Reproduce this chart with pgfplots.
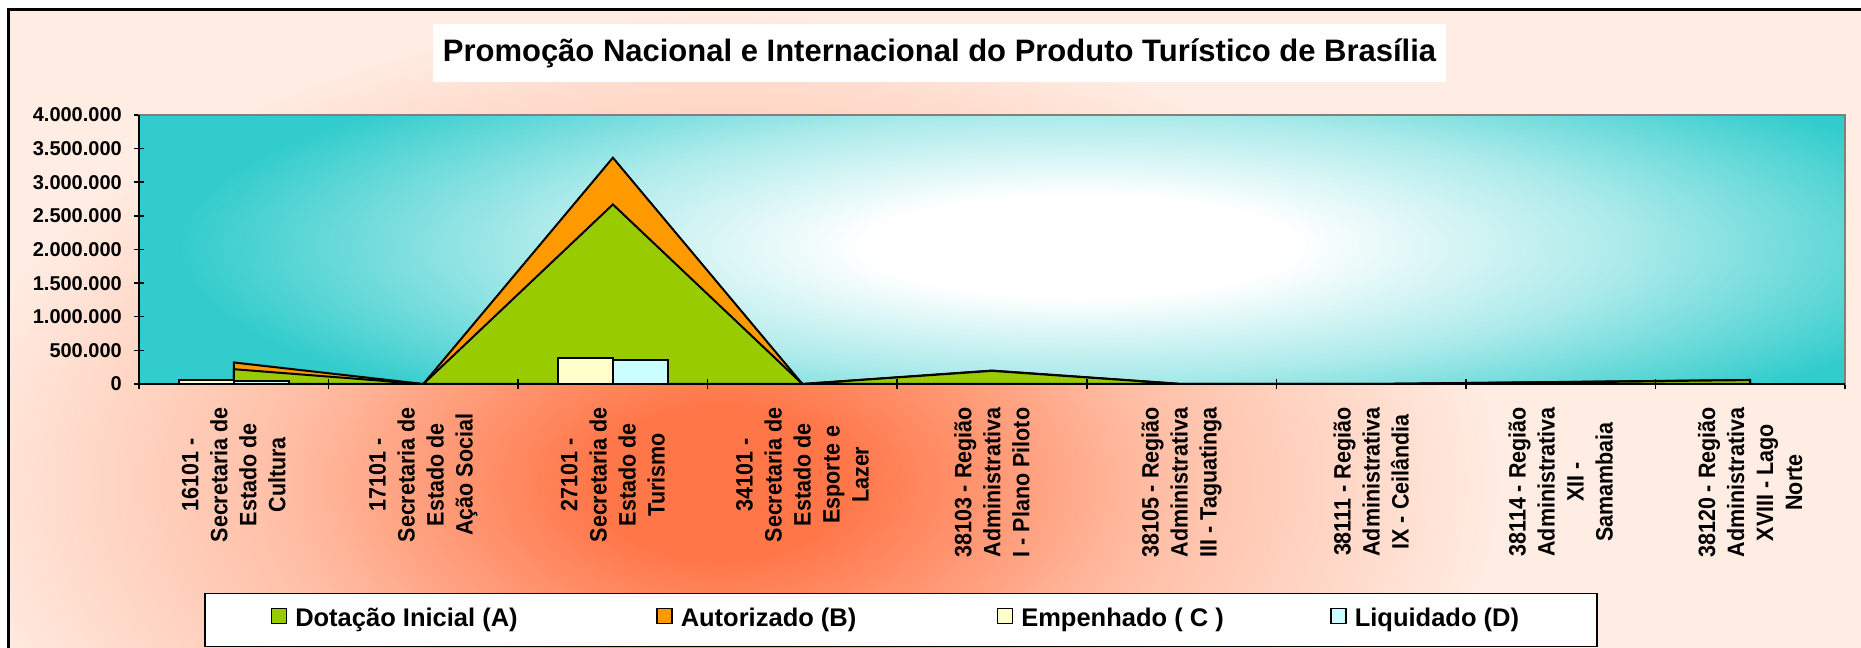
\documentclass[border=0pt]{standalone}
\usepackage{pgfplots}
\pgfplotsset{compat=1.18}
\usepackage{fontspec}
\setmainfont{Liberation Sans}

\definecolor{dotacao}{RGB}{153,204,0}
\definecolor{autoriz}{RGB}{255,153,0}
\definecolor{empenh}{RGB}{255,255,204}
\definecolor{liquid}{RGB}{204,255,255}
\definecolor{tealbg}{RGB}{51,204,204}
\definecolor{peachin}{RGB}{255,118,72}
\definecolor{peachmid}{RGB}{255,190,165}
\definecolor{peachout}{RGB}{255,236,226}
\definecolor{framegray}{RGB}{128,128,128}

% 25bp of a shading is the edge of the shaded path
\pgfdeclareradialshading{tealrad}{\pgfpoint{0bp}{0bp}}{color(0bp)=(white); color(6bp)=(white); color(15bp)=(tealbg!40!white); color(25bp)=(tealbg); color(50bp)=(tealbg)}
\pgfdeclareradialshading{peachrad}{\pgfpoint{0bp}{0bp}}{color(0bp)=(peachin); color(4bp)=(peachin); color(14bp)=(peachmid); color(25bp)=(peachout); color(50bp)=(peachout)}

\begin{document}
\begin{tikzpicture}[x=1bp,y=1bp]
\useasboundingbox (0,0) rectangle (1861,648);
\begin{scope}
\clip (0,0) rectangle (1861,648);
\fill[white] (0,0) rectangle (1861,648);
% chart area background
\begin{scope}
  \clip (8,0) rectangle (1861,638);
  \fill[peachout] (8,0) rectangle (1861,638);
  \shade[shading=peachrad] (720,165) ellipse (780 and 470);
\end{scope}
\draw[black, line width=3bp] (8,-5) -- (8,638) -- (1870,638);
% plot area background
\begin{scope}
  \clip (139,264) rectangle (1845,533);
  \fill[tealbg] (139,264) rectangle (1845,533);
  \shade[shading=tealrad] (1080,402) ellipse (900 and 215);
\end{scope}
% title
\fill[white] (433,566) rectangle (1446,624);
\node[font=\fontsize{31bp}{36bp}\selectfont\bfseries] at (939.5,595) {Promoção Nacional e Internacional do Produto Turístico de Brasília};

\begin{axis}[
  at={(139bp,264bp)}, anchor=south west,
  scale only axis, width=1706bp, height=269bp,
  xmin=0.5, xmax=9.5, ymin=0, ymax=4000000,
  axis on top,
  axis line style={draw=framegray, line width=1.5bp},
  xtick={1,...,9},
  xticklabels={
    {16101 -\\Secretaria de\\Estado de\\Cultura},
    {17101 -\\Secretaria de\\Estado de\\Ação Social},
    {27101 -\\Secretaria de\\Estado de\\Turismo},
    {34101 -\\Secretaria de\\Estado de\\Esporte e\\Lazer},
    {38103 - Região\\Administrativa\\I - Plano Piloto},
    {38105 - Região\\Administrativa\\III - Taguatinga},
    {38111 - Região\\Administrativa\\IX - Ceilândia},
    {38114 - Região\\Administrativa\\XII -\\Samambaia},
    {38120 - Região\\Administrativa\\XVIII - Lago\\Norte}},
  minor xtick={0.5,1.5,...,9.5},
  ytick={0,500000,...,4000000},
  scaled y ticks=false,
  xtick pos=bottom, ytick pos=left,
  tick align=center,
  major tick length=10bp, minor tick length=10bp,
  every major x tick/.append style={draw=none},
  tick style={black, line width=1.5bp},
  yticklabel style={font=\fontsize{20bp}{24bp}\selectfont\bfseries, anchor=east, inner sep=0pt, xshift=-12bp},
  xticklabel style={font=\fontsize{21.5bp}{26.4bp}\selectfont\bfseries, rotate=90, yscale=1.1, anchor=east, align=center, inner sep=0pt, xshift=-18bp},
  /pgf/number format/fixed,
  /pgf/number format/1000 sep={.},
  /pgf/number format/assume math mode=true,
  legend columns=4,
  legend style={at={(0.0381,-0.7758)}, anchor=north west, draw=black, line width=1.5bp, fill=white,
    inner xsep=66bp, inner ysep=14bp, column sep=0pt,
    nodes={inner sep=0pt, text height=19bp, text depth=6bp, font=\fontsize{25.5bp}{30bp}\selectfont\bfseries}},
  legend image code/.code={\draw[#1, draw=black, line width=1.5bp] (0bp,-3.5bp) rectangle (15bp,11.5bp);},
  after end axis/.code={\draw[black, line width=2bp] (rel axis cs:0,1) -- (rel axis cs:0,0) -- (rel axis cs:1,0);},
]
\addlegendimage{fill=dotacao}
\addlegendimage{fill=autoriz}
\addlegendimage{fill=empenh}
\addlegendimage{fill=liquid}

% Autorizado (B), drawn behind
\addplot[fill=autoriz, draw=black, line width=2bp, forget plot] coordinates {
  (1,320000) (2,0) (3,3365000) (4,0) (5,200000) (6,0) (7,0) (8,30000) (9,60000)
} \closedcycle;
% Dotacao Inicial (A)
\addplot[fill=dotacao, draw=black, line width=2bp, forget plot] coordinates {
  (1,220000) (2,0) (3,2670000) (4,0) (5,195000) (6,0) (7,0) (8,28000) (9,58000)
} \closedcycle;
% Empenhado (C)
\addplot[ybar, bar width=0.29, bar shift=-0.145, fill=empenh, draw=black, line width=2bp, forget plot] coordinates {
  (1,55000) (3,380000)
};
% Liquidado (D)
\addplot[ybar, bar width=0.29, bar shift=0.145, fill=liquid, draw=black, line width=2bp, forget plot] coordinates {
  (1,50000) (3,350000)
};

\legend{\makebox[369bp][l]{\hspace{8bp}Dotação Inicial (A)},
        \makebox[324bp][l]{\hspace{8bp}Autorizado (B)},
        \makebox[317bp][l]{\hspace{8bp}Empenhado ( C )},
        \makebox[184bp][l]{\hspace{8bp}Liquidado (D)}}
\end{axis}
\end{scope}
\end{tikzpicture}
\end{document}
